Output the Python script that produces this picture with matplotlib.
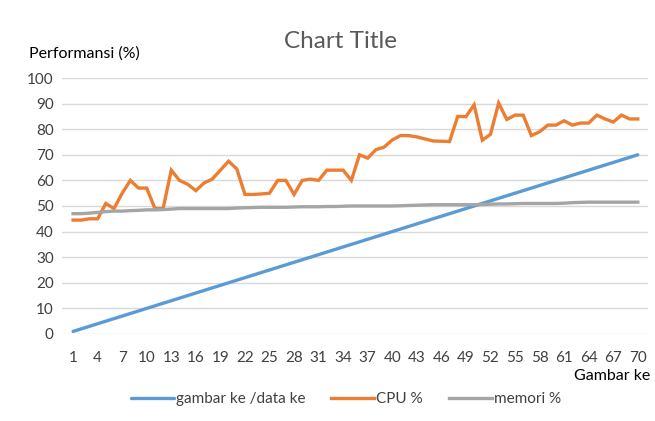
import matplotlib.pyplot as plt

plt.rcParams['font.family'] = ['Lato', 'DejaVu Sans']

# data
gambar = list(range(1, 71))
data_ke = list(range(1, 71))
cpu = [44.5, 44.5, 45, 45, 51, 49, 55, 60, 57, 57,
       49, 49, 64, 60, 58.5, 56, 59, 60.5, 64, 67.5,
       64.5, 54.5, 54.5, 54.7, 55, 60, 60, 54.5, 60, 60.5,
       60, 64, 64, 64, 60, 70, 68.7, 72, 73, 75.8,
       77.5, 77.5, 77, 76.2, 75.4, 75.3, 75.2, 85, 84.9, 89.5,
       75.7, 78, 90.2, 83.8, 85.5, 85.5, 77.5, 79, 81.6, 81.6,
       83.3, 81.6, 82.4, 82.4, 85.5, 84, 82.8, 85.5, 84, 84]
memori = [47, 47, 47.2, 47.5, 47.8, 48, 48, 48.2, 48.3, 48.5,
          48.5, 48.6, 48.8, 49, 49, 49, 49, 49, 49, 49,
          49.2, 49.3, 49.4, 49.5, 49.5, 49.5, 49.5, 49.6, 49.7, 49.7,
          49.7, 49.8, 49.8, 49.9, 50, 50, 50, 50, 50, 50,
          50.1, 50.2, 50.3, 50.4, 50.5, 50.5, 50.5, 50.5, 50.5, 50.5,
          50.6, 50.7, 50.8, 50.8, 50.9, 51, 51, 51, 51, 51,
          51.1, 51.3, 51.4, 51.5, 51.5, 51.5, 51.5, 51.5, 51.5, 51.5]
xticks = list(range(1, 71, 3))

fig = plt.figure(figsize=(6.55, 4.21), dpi=100)
ax = fig.add_axes([0.0947, 0.2067, 0.894, 0.608])

ax.plot(gambar, data_ke, color='#5b9bd5', lw=2.4, label='gambar ke /data ke',
        solid_capstyle='round')
ax.plot(gambar, cpu, color='#ed7d31', lw=2.4, label='CPU %',
        solid_joinstyle='miter')
ax.plot(gambar, memori, color='#a5a5a5', lw=2.4, label='memori %')

ax.set_xlim(-0.35, 71.2)
ax.set_ylim(0, 100)
ax.set_yticks(range(0, 101, 10))
ax.set_xticks(xticks)
ax.grid(axis='y', color='#d9d9d9', lw=1)
ax.set_axisbelow(True)
for s in ax.spines.values():
    s.set_visible(False)
ax.tick_params(length=0, labelsize=11, colors='#404040', pad=6)
ax.tick_params(axis='x', pad=12)

fig.text(0.52, 0.902, 'Chart Title', ha='center', va='center',
         fontsize=17.5, color='#595959')
fig.text(0.045, 0.872, 'Performansi (%)', ha='left', va='center',
         fontsize=11.5, color='#000000')
fig.text(0.993, 0.108, 'Gambar ke', ha='right', va='center',
         fontsize=11.5, color='#000000')

ax.legend(loc='center', bbox_to_anchor=(0.485, -0.255), ncol=3, frameon=False,
          fontsize=11, handlelength=2.8, handletextpad=0.15, columnspacing=1.7,
          labelcolor='#404040')

fig.savefig('out.png', dpi=100)
